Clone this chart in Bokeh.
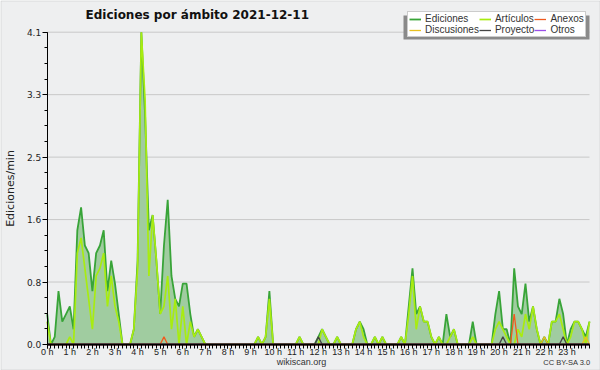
from bokeh.plotting import figure
from bokeh.models import (ColumnDataSource, FixedTicker, NumeralTickFormatter,
                          Legend, LegendItem, Label, BoxAnnotation, Range1d)
from bokeh.embed import file_html
from bokeh.resources import INLINE

# ---- data: edits per minute, one sample every 10 minutes (0 h .. 24 h) ----
hours = [k / 6 for k in range(145)]

ediciones = [
    0.4, 0.0, 0.1, 0.7, 0.3, 0.4,   # 0 h
    0.5, 0.2, 1.5, 1.8, 1.3, 1.2,   # 1 h
    0.7, 1.2, 1.3, 1.5, 0.7, 1.1,   # 2 h
    0.8, 0.4, 0.0, 0.0, 0.0, 0.2,   # 3 h
    1.1, 4.1, 3.0, 1.5, 1.7, 1.1,   # 4 h
    0.4, 1.3, 1.9, 0.9, 0.6, 0.5,   # 5 h
    0.8, 0.8, 0.4, 0.1, 0.2, 0.1,   # 6 h
    0.0, 0.0, 0.0, 0.0, 0.0, 0.0,   # 7 h
    0.0, 0.0, 0.0, 0.0, 0.0, 0.0,   # 8 h
    0.0, 0.0, 0.1, 0.0, 0.1, 0.7,   # 9 h
    0.0, 0.0, 0.0, 0.0, 0.0, 0.0,   # 10 h
    0.0, 0.1, 0.0, 0.0, 0.0, 0.0,   # 11 h
    0.1, 0.2, 0.1, 0.0, 0.0, 0.1,   # 12 h
    0.0, 0.0, 0.0, 0.0, 0.2, 0.3,   # 13 h
    0.2, 0.0, 0.0, 0.1, 0.0, 0.1,   # 14 h
    0.0, 0.0, 0.0, 0.0, 0.1, 0.0,   # 15 h
    0.5, 1.0, 0.4, 0.5, 0.3, 0.3,   # 16 h
    0.1, 0.0, 0.1, 0.0, 0.4, 0.1,   # 17 h
    0.2, 0.0, 0.0, 0.0, 0.0, 0.3,   # 18 h
    0.0, 0.0, 0.0, 0.0, 0.0, 0.4,   # 19 h
    0.7, 0.2, 0.2, 0.0, 1.0, 0.5,   # 20 h
    0.4, 0.8, 0.3, 0.5, 0.2, 0.0,   # 21 h
    0.1, 0.0, 0.3, 0.3, 0.6, 0.4,   # 22 h
    0.0, 0.2, 0.3, 0.3, 0.2, 0.1,   # 23 h
    0.3,
]

articulos = [
    0.3, 0.0, 0.0, 0.0, 0.0, 0.0,
    0.1, 0.0, 1.2, 1.4, 1.0, 0.6,
    0.2, 0.9, 1.0, 1.2, 0.5, 0.9,
    0.5, 0.3, 0.0, 0.0, 0.0, 0.2,
    1.0, 4.1, 3.2, 0.9, 1.7, 1.1,
    0.4, 0.5, 0.9, 0.2, 0.6, 0.0,
    0.5, 0.0, 0.3, 0.1, 0.2, 0.1,
    0.0, 0.0, 0.0, 0.0, 0.0, 0.0,
    0.0, 0.0, 0.0, 0.0, 0.0, 0.0,
    0.0, 0.0, 0.1, 0.0, 0.1, 0.6,
    0.0, 0.0, 0.0, 0.0, 0.0, 0.0,
    0.0, 0.1, 0.0, 0.0, 0.0, 0.0,
    0.0, 0.2, 0.1, 0.0, 0.0, 0.1,
    0.0, 0.0, 0.0, 0.0, 0.2, 0.3,
    0.1, 0.0, 0.0, 0.1, 0.0, 0.1,
    0.0, 0.0, 0.0, 0.0, 0.1, 0.0,
    0.4, 0.9, 0.2, 0.5, 0.3, 0.3,
    0.1, 0.0, 0.1, 0.0, 0.0, 0.1,
    0.2, 0.0, 0.0, 0.0, 0.0, 0.1,
    0.0, 0.0, 0.0, 0.0, 0.0, 0.2,
    0.3, 0.2, 0.1, 0.0, 0.0, 0.2,
    0.1, 0.4, 0.2, 0.5, 0.2, 0.0,
    0.0, 0.0, 0.3, 0.3, 0.4, 0.2,
    0.0, 0.1, 0.3, 0.3, 0.2, 0.0,
    0.3,
]

anexos = [0.0] * 145
anexos[31] = 0.1
anexos[124] = 0.4

discusiones = [0.0] * 145
discusiones[132] = 0.1
discusiones[143] = 0.1

proyecto = [0.0] * 145
proyecto[72] = 0.1
proyecto[121] = 0.1
proyecto[137] = 0.1

otros = [0.0] * 145

y_ticks = [0.0, 0.82, 1.64, 2.46, 3.28, 4.1]
y_minor = [i * 0.205 for i in range(21)]
x_ticks = list(range(24))
x_minor = hours
x_labels = {h: f"{h} h" for h in x_ticks}

BG = "#eeeff0"
FONT = "DejaVu Sans"
FONT2 = "Liberation Sans"

# ---- layout geometry (pixels inside the 600x370 canvas) ----
W, H = 600, 370
FX0, FX1 = 46.7, 589.0        # x pixel of 0 h and of 24 h
FY0, FY1 = 26.0, 338.3        # y pixel (from bottom) of 0.0 and of 4.1
ppx = (FX1 - FX0) / 24
ppy = (FY1 - FY0) / 4.1

src = ColumnDataSource(dict(t=hours, ed=ediciones, art=articulos, anx=anexos,
                            dis=discusiones, pro=proyecto, otr=otros))

p = figure(frame_width=W, frame_height=H,
           x_range=Range1d(-FX0 / ppx, 24 + (W - FX1) / ppx),
           y_range=Range1d(-FY0 / ppy, 4.1 + (H - FY1) / ppy),
           output_backend="svg", toolbar_location=None,
           min_border=0, min_border_left=0, min_border_right=0,
           min_border_top=0, min_border_bottom=0,
           background_fill_color=BG, border_fill_color=BG,
           outline_line_color=None)
p.title.visible = False
p.xgrid.visible = False
p.ygrid.visible = False

# outer frame line of the image
p.add_layout(BoxAnnotation(left=0.5, right=W - 0.5, top=H - 0.5, bottom=0.5,
                           left_units="screen", right_units="screen",
                           top_units="screen", bottom_units="screen",
                           fill_alpha=0, line_color="#a8a8a8", line_width=1,
                           level="underlay"))

# horizontal grid lines at the major y ticks
p.segment(x0=0, x1=24, y0=y_ticks[1:], y1=y_ticks[1:], line_color="#c8c8c8",
          line_width=1, level="underlay")

p.varea(x="t", y1=0, y2="ed", source=src, fill_color="#a0cca0", fill_alpha=1.0)
r_ed = p.line("t", "ed", source=src, line_color="#38a438", line_width=1.8)
r_art = p.line("t", "art", source=src, line_color="#a8ec10", line_width=1.7)
r_dis = p.line("t", "dis", source=src, line_color="#e8c020", line_width=1.3)
r_pro = p.line("t", "pro", source=src, line_color="#444444", line_width=1.3)
r_anx = p.line("t", "anx", source=src, line_color="#f05a1e", line_width=1.3)
r_otr = p.line("t", "otr", source=src, line_color="#9a4ee8", line_width=1.3)

# axes drawn inside the frame at fixed locations
p.xaxis.fixed_location = 0
p.xaxis.bounds = (0, 24)
p.xaxis.ticker = FixedTicker(ticks=x_ticks, minor_ticks=x_minor)
p.xaxis.major_label_overrides = x_labels
p.xaxis.axis_line_color = "#000000"
p.xaxis.axis_line_width = 2
p.xaxis.major_tick_out = 4
p.xaxis.minor_tick_out = 4
p.xaxis.major_tick_in = 0
p.xaxis.minor_tick_in = 0
p.xaxis.major_tick_line_color = "#000000"
p.xaxis.minor_tick_line_color = "#000000"
p.xaxis.major_label_standoff = -2
p.xaxis.major_label_text_font = FONT2
p.xaxis.major_label_text_font_size = "9px"
p.xaxis.major_label_text_color = "#222222"

p.yaxis.fixed_location = 0
p.yaxis.bounds = (0, 4.1)
p.yaxis.ticker = FixedTicker(ticks=y_ticks, minor_ticks=y_minor)
p.yaxis.formatter = NumeralTickFormatter(format="0.0")
p.yaxis.axis_line_color = "#000000"
p.yaxis.major_tick_out = 5
p.yaxis.minor_tick_out = 3
p.yaxis.major_tick_in = 0
p.yaxis.minor_tick_in = 0
p.yaxis.major_label_standoff = 1
p.yaxis.major_label_text_font = FONT
p.yaxis.major_label_text_font_size = "9px"
p.yaxis.major_label_text_color = "#222222"

# texts
p.add_layout(Label(x=85, y=H - 14, x_units="screen", y_units="screen",
                   text="Ediciones por ámbito  2021-12-11", text_align="left",
                   text_baseline="middle", text_font=FONT,
                   text_font_size="12px", text_font_style="bold",
                   text_color="#111111"))
p.add_layout(Label(x=10, y=H - 188, x_units="screen", y_units="screen",
                   text="Ediciones/min", angle=90, angle_units="deg",
                   text_align="center", text_baseline="middle",
                   text_font=FONT, text_font_size="11px",
                   text_color="#222222"))
p.add_layout(Label(x=301, y=9, x_units="screen", y_units="screen",
                   text="wikiscan.org", text_align="center",
                   text_baseline="middle", text_font=FONT2,
                   text_font_size="9px", text_color="#333333"))
p.add_layout(Label(x=590, y=8, x_units="screen", y_units="screen",
                   text="CC BY-SA 3.0", text_align="right",
                   text_baseline="middle", text_font=FONT2,
                   text_font_size="7.5px", text_color="#333333"))

# legend shadow + legend
p.add_layout(BoxAnnotation(left=403, right=589, top=H - 15, bottom=H - 39,
                           left_units="screen", right_units="screen",
                           top_units="screen", bottom_units="screen",
                           fill_color="#8a8a8a", fill_alpha=1.0,
                           line_color=None, level="overlay"))

legend = Legend(items=[
    LegendItem(label="Ediciones", renderers=[r_ed]),
    LegendItem(label="Artículos", renderers=[r_art]),
    LegendItem(label="Anexos", renderers=[r_anx]),
    LegendItem(label="Discusiones", renderers=[r_dis]),
    LegendItem(label="Proyecto", renderers=[r_pro]),
    LegendItem(label="Otros", renderers=[r_otr]),
], location=(407, H - 11 - 26), orientation="horizontal", ncols=3)
legend.label_text_font = FONT2
legend.label_text_font_size = "10px"
legend.label_text_color = "#333333"
legend.label_height = 10
legend.glyph_height = 10
legend.glyph_width = 12
legend.label_standoff = 4
legend.spacing = 0
legend.padding = 1
legend.margin = 0
legend.border_line_color = "#999999"
legend.background_fill_color = "#ffffff"
legend.background_fill_alpha = 1.0
p.add_layout(legend)

open("out.html", "w").write(file_html(p, INLINE))
